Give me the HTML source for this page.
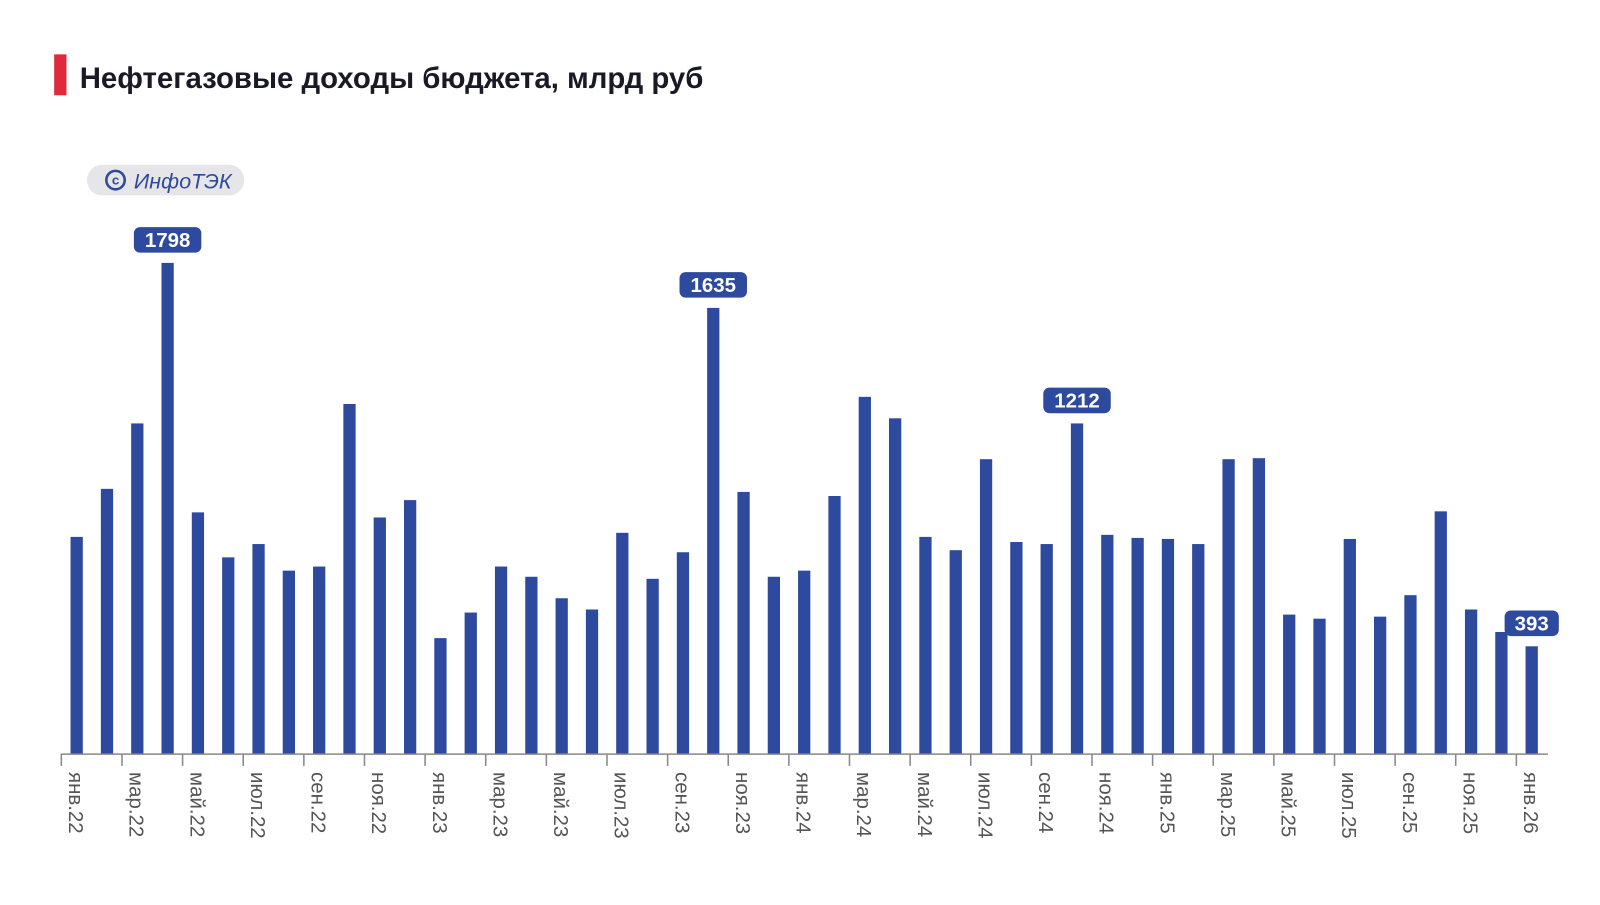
<!DOCTYPE html>
<html><head><meta charset="utf-8"><style>
body{margin:0;background:#fff;width:1600px;height:900px;overflow:hidden;font-family:"Liberation Sans",sans-serif}
</style></head><body>
<svg width="1600" height="900" viewBox="0 0 1565 880" xmlns="http://www.w3.org/2000/svg" font-family="Liberation Sans, sans-serif">
<rect x="53" y="53" width="12" height="40" fill="#e0293a"/>
<text x="78" y="86" font-size="29" font-weight="bold" fill="#1a1a26" textLength="610" lengthAdjust="spacingAndGlyphs">Нефтегазовые доходы бюджета, млрд руб</text>
<rect x="85" y="161" width="154" height="30" rx="15" fill="#e6e6e8"/>
<circle cx="113" cy="176" r="9" fill="none" stroke="#2e4a9e" stroke-width="2.5"/>
<text x="113" y="180.5" font-size="13" font-weight="bold" fill="#2e4a9e" text-anchor="middle">c</text>
<text x="131" y="184" font-size="21" font-style="italic" fill="#2e4a9e">ИнфоТЭК</text>
<g transform="translate(0,-2)">
<g id="bars" fill="#2e4a9e"></g>
<line x1="60" y1="739.5" x2="1514" y2="739.5" stroke="#888" stroke-width="1.5"/>
<g id="ticks" stroke="#888" stroke-width="1.5"></g>
<g id="labels" font-size="20" fill="#555"></g>
<g id="callouts"></g>
</g>
</svg>
<script>
var tops=[527,480,416,259,503,547,534,560,556,397,508,491,626,601,556,566,587,598,523,568,542,303,483,566,560,487,390,411,527,540,451,532,534,416,525,528,529,534,451,450,603,607,529,605,584,502,598,620,634];
var m=["янв","мар","май","июл","сен","ноя"];
var b="",t="",l="";
for(var i=0;i<49;i++){var cx=75+i*29.65;
b+='<rect x="'+(cx-6)+'" y="'+tops[i]+'" width="12" height="'+(739-tops[i])+'"/>';
if(i%2==0){var tx=cx-15;t+='<line x1="'+tx+'" y1="739" x2="'+tx+'" y2="751"/>';
var yr=22+Math.floor(i/12);var lab=m[(i%12)/2]+'.'+yr;
l+='<text transform="translate('+(cx-7.5)+',757) rotate(90)">'+lab+'</text>';}}
document.getElementById('bars').innerHTML=b;
document.getElementById('ticks').innerHTML=t;
document.getElementById('labels').innerHTML=l;
var cs=[[3,"1798"],[21,"1635"],[33,"1212"],[48,"393"]],c="";
cs.forEach(function(a){var cx=75+a[0]*29.65,w=a[1].length*13+14,y=tops[a[0]]-35;
c+='<rect x="'+(cx-w/2)+'" y="'+y+'" width="'+w+'" height="25" rx="6" fill="#2e4a9e"/><text x="'+cx+'" y="'+(y+19.5)+'" font-size="20" font-weight="bold" fill="#fff" text-anchor="middle">'+a[1]+'</text>';});
document.getElementById('callouts').innerHTML=c;
</script>
</body></html>
